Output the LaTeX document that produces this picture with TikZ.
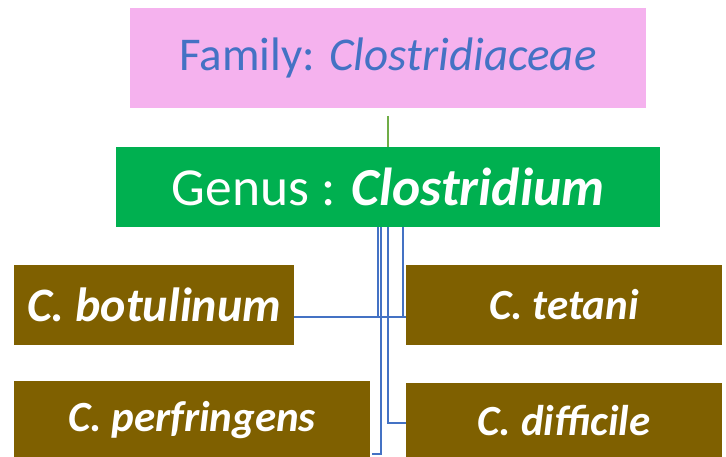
\documentclass[tikz,border=0pt]{standalone}
\usepackage{fontspec}
\setmainfont{Carlito}
\usetikzlibrary{positioning}

\definecolor{famPink}{RGB}{245,178,238}
\definecolor{famBlue}{RGB}{68,114,196}
\definecolor{genGreen}{RGB}{0,176,80}
\definecolor{lineGreen}{RGB}{112,173,71}
\definecolor{spBrown}{RGB}{127,96,0}

\tikzset{
    box/.style={inner sep=0pt, outer sep=0pt},
    species/.style={box, fill=spBrown, text=white, minimum height=80pt,
        font=\fontsize{43}{50}\selectfont\bfseries\itshape},
    link/.style={famBlue, line width=2.3pt}
}

\begin{document}
\begin{tikzpicture}[x=1pt, y=-1pt]
                        \useasboundingbox (0, 0) rectangle (726, 457);
                        \clip (0, 0) rectangle (726, 457);

                        \node[box, fill=famPink, minimum width=516pt, minimum height=100pt,
                            text=famBlue, font=\fontsize{47}{54}\selectfont]
                            (fam) at (388, 58) {Family: \textit{Clostridiaceae}};
                        \node[box, fill=genGreen, minimum width=544pt, minimum height=80pt,
                            text=white, font=\fontsize{53.5}{60}\selectfont]
                            (gen) at (388, 187) {Genus : \textbf{\textit{Clostridium}}};

                        \node[species, minimum width=280pt, font=\fontsize{48}{54}\selectfont\bfseries\itshape]
                            (bot) at (154, 305) {C. botulinum};
                        \node[species, minimum width=316pt] (tet) at (564, 305) {C. tetani};
                        \node[species, minimum width=356pt, minimum height=78pt] (per) at (192, 420) {C. perfringens};
                        \node[species, minimum width=316pt, minimum height=76pt] (dif) at (564, 421) {C. difficile};

                        \draw[lineGreen, line width=2pt] ([yshift=-8pt]fam.south) -- (gen.north);

                        \draw[link] ([xshift=15pt]gen.south) |- ([yshift=-12pt]bot.east);
                        \draw[link] ([xshift=-10pt]gen.south) |- ([yshift=-12pt]tet.west);
                        \draw[link] ([xshift=-7pt]gen.south) |- ([yshift=-34pt, xshift=2pt]per.east);
                        \draw[link] (gen.south) |- ([yshift=-2pt]dif.west);
                    \end{tikzpicture}
\end{document}
